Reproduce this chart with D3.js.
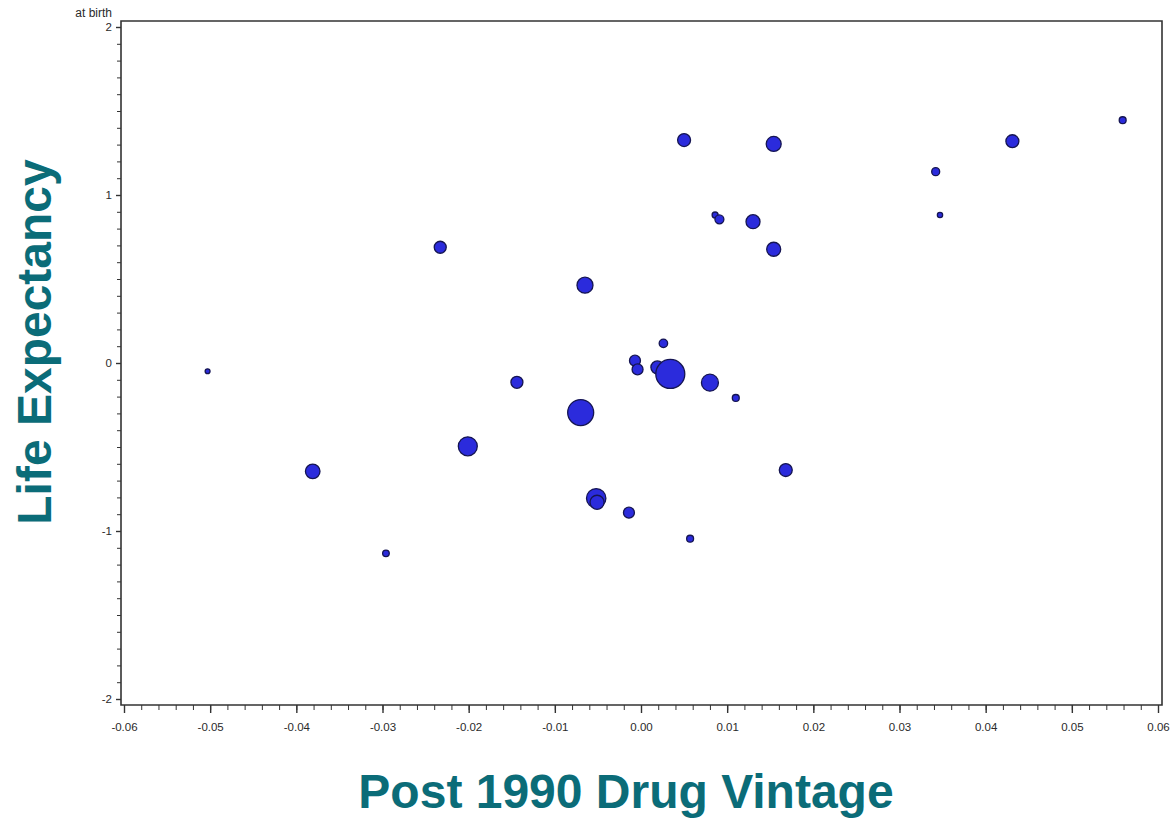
<!DOCTYPE html>
<meta charset="utf-8">
<style>
body, html {
  margin: 0;
  padding: 0;
  background: #fff;
}
.tick text {
  font: 11.5px "Liberation Sans", Arial, sans-serif;
  fill: #2a2a2a;
}
.title {
  font: bold 48px "Liberation Sans", Arial, sans-serif;
  fill: #0b6c78;
  text-anchor: middle;
}
.bubble {
  fill: #2b2bdc;
  stroke: #151552;
  stroke-width: 1.3;
}
</style>
<div id="chart"></div>
<script src="https://d3js.org/d3.v7.min.js"></script>
<script>
const width = 1170
const height = 818

// drug vintage change (x), life expectancy change (y), weight (bubble area)
const vintage = [-0.0503, -0.0381, -0.0296, -0.0233, -0.0201, -0.0144, -0.0070, -0.0065,
  -0.0052, -0.0051, -0.0014, -0.0007, -0.0004, 0.0026, 0.0019, 0.0034, 0.0050, 0.0057,
  0.0080, 0.0086, 0.0091, 0.0110, 0.0130, 0.0154, 0.0154, 0.0168, 0.0342, 0.0347, 0.0431, 0.0559]
const lifeExp = [-0.049, -0.645, -1.133, 0.689, -0.496, -0.115, -0.295, 0.463,
  -0.805, -0.829, -0.891, 0.014, -0.038, 0.117, -0.026, -0.065, 1.327, -1.046,
  -0.117, 0.881, 0.855, -0.208, 0.841, 1.304, 0.677, -0.637, 1.139, 0.881, 1.320, 1.445]
const weight = [6, 53, 11, 36, 90, 36, 169, 64,
  94, 49, 30, 30, 30, 18, 42, 210, 42, 12,
  72, 9, 20, 12, 49, 56, 49, 42, 16, 7, 42, 12]

const xTicks = [-0.06, -0.05, -0.04, -0.03, -0.02, -0.01, 0, 0.01, 0.02, 0.03, 0.04, 0.05, 0.06]
const yTicks = [-2, -1, 0, 1, 2]

const points = vintage.map((v, i) => ({x: v, y: lifeExp[i], w: weight[i]}))

const locale = d3.formatLocale({decimal: ".", thousands: ",", grouping: [3], currency: ["", ""], minus: "-"})

let svg = d3.select("#chart")
  .append("svg")
  .attr("width", width)
  .attr("height", height)

const x = d3.scaleLinear().domain([-0.06, 0.06]).range([124, 1158])
const y = d3.scaleLinear().domain([-2, 2]).range([699, 27])
const r = d3.scaleSqrt().domain([0, d3.max(weight)]).range([0, 14.5])

const frameL = 121, frameR = 1162, frameT = 21, frameB = 705

// frame
svg.append("path")
  .attr("d", `M${frameL},${frameB}V${frameT}H${frameR}V${frameB}Z`)
  .attr("fill", "none")
  .attr("stroke", "#333")
  .attr("stroke-width", 1.6)

// x axis: minor ticks then major ticks with labels
const xMinor = d3.range(-60, 61, 2).map(d => d / 1000)
svg.append("g")
  .attr("transform", `translate(0,${frameB})`)
  .call(d3.axisBottom(x).tickValues(xMinor).tickSize(5).tickFormat(""))
  .call(g => g.select(".domain").remove())
  .call(g => g.selectAll("line").attr("stroke", "#333"))
svg.append("g")
  .attr("transform", `translate(0,${frameB})`)
  .call(d3.axisBottom(x).tickValues(xTicks).tickSize(8).tickPadding(10).tickFormat(locale.format(".2f")))
  .call(g => g.select(".domain").remove())
  .call(g => g.selectAll("line").attr("stroke", "#333").attr("stroke-width", 1.4))

// y axis
const yMinor = d3.range(-20, 21, 1).map(d => d / 10)
svg.append("g")
  .attr("transform", `translate(${frameL},0)`)
  .call(d3.axisLeft(y).tickValues(yMinor).tickSize(4).tickFormat(""))
  .call(g => g.select(".domain").remove())
  .call(g => g.selectAll("line").attr("stroke", "#333"))
svg.append("g")
  .attr("transform", `translate(${frameL},0)`)
  .call(d3.axisLeft(y).tickValues(yTicks).tickSize(5).tickPadding(4).tickFormat(locale.format("d")))
  .call(g => g.select(".domain").remove())
  .call(g => g.selectAll("line").attr("stroke", "#333").attr("stroke-width", 1.4))

svg.append("text")
  .attr("x", 112)
  .attr("y", 17)
  .attr("text-anchor", "end")
  .style("font", "12px 'Liberation Sans', Arial, sans-serif")
  .style("fill", "#2a2a2a")
  .text("at birth")

// bubbles
svg.append("g")
  .selectAll("circle")
  .data(points)
  .enter()
  .append("circle")
  .attr("class", "bubble")
  .attr("cx", d => x(d.x))
  .attr("cy", d => y(d.y))
  .attr("r", d => r(d.w))

// titles
svg.append("text")
  .attr("class", "title")
  .attr("x", 626)
  .attr("y", 808)
  .text("Post 1990 Drug Vintage")

svg.append("text")
  .attr("class", "title")
  .attr("transform", "translate(51,342) rotate(-90)")
  .text("Life Expectancy")
</script>
